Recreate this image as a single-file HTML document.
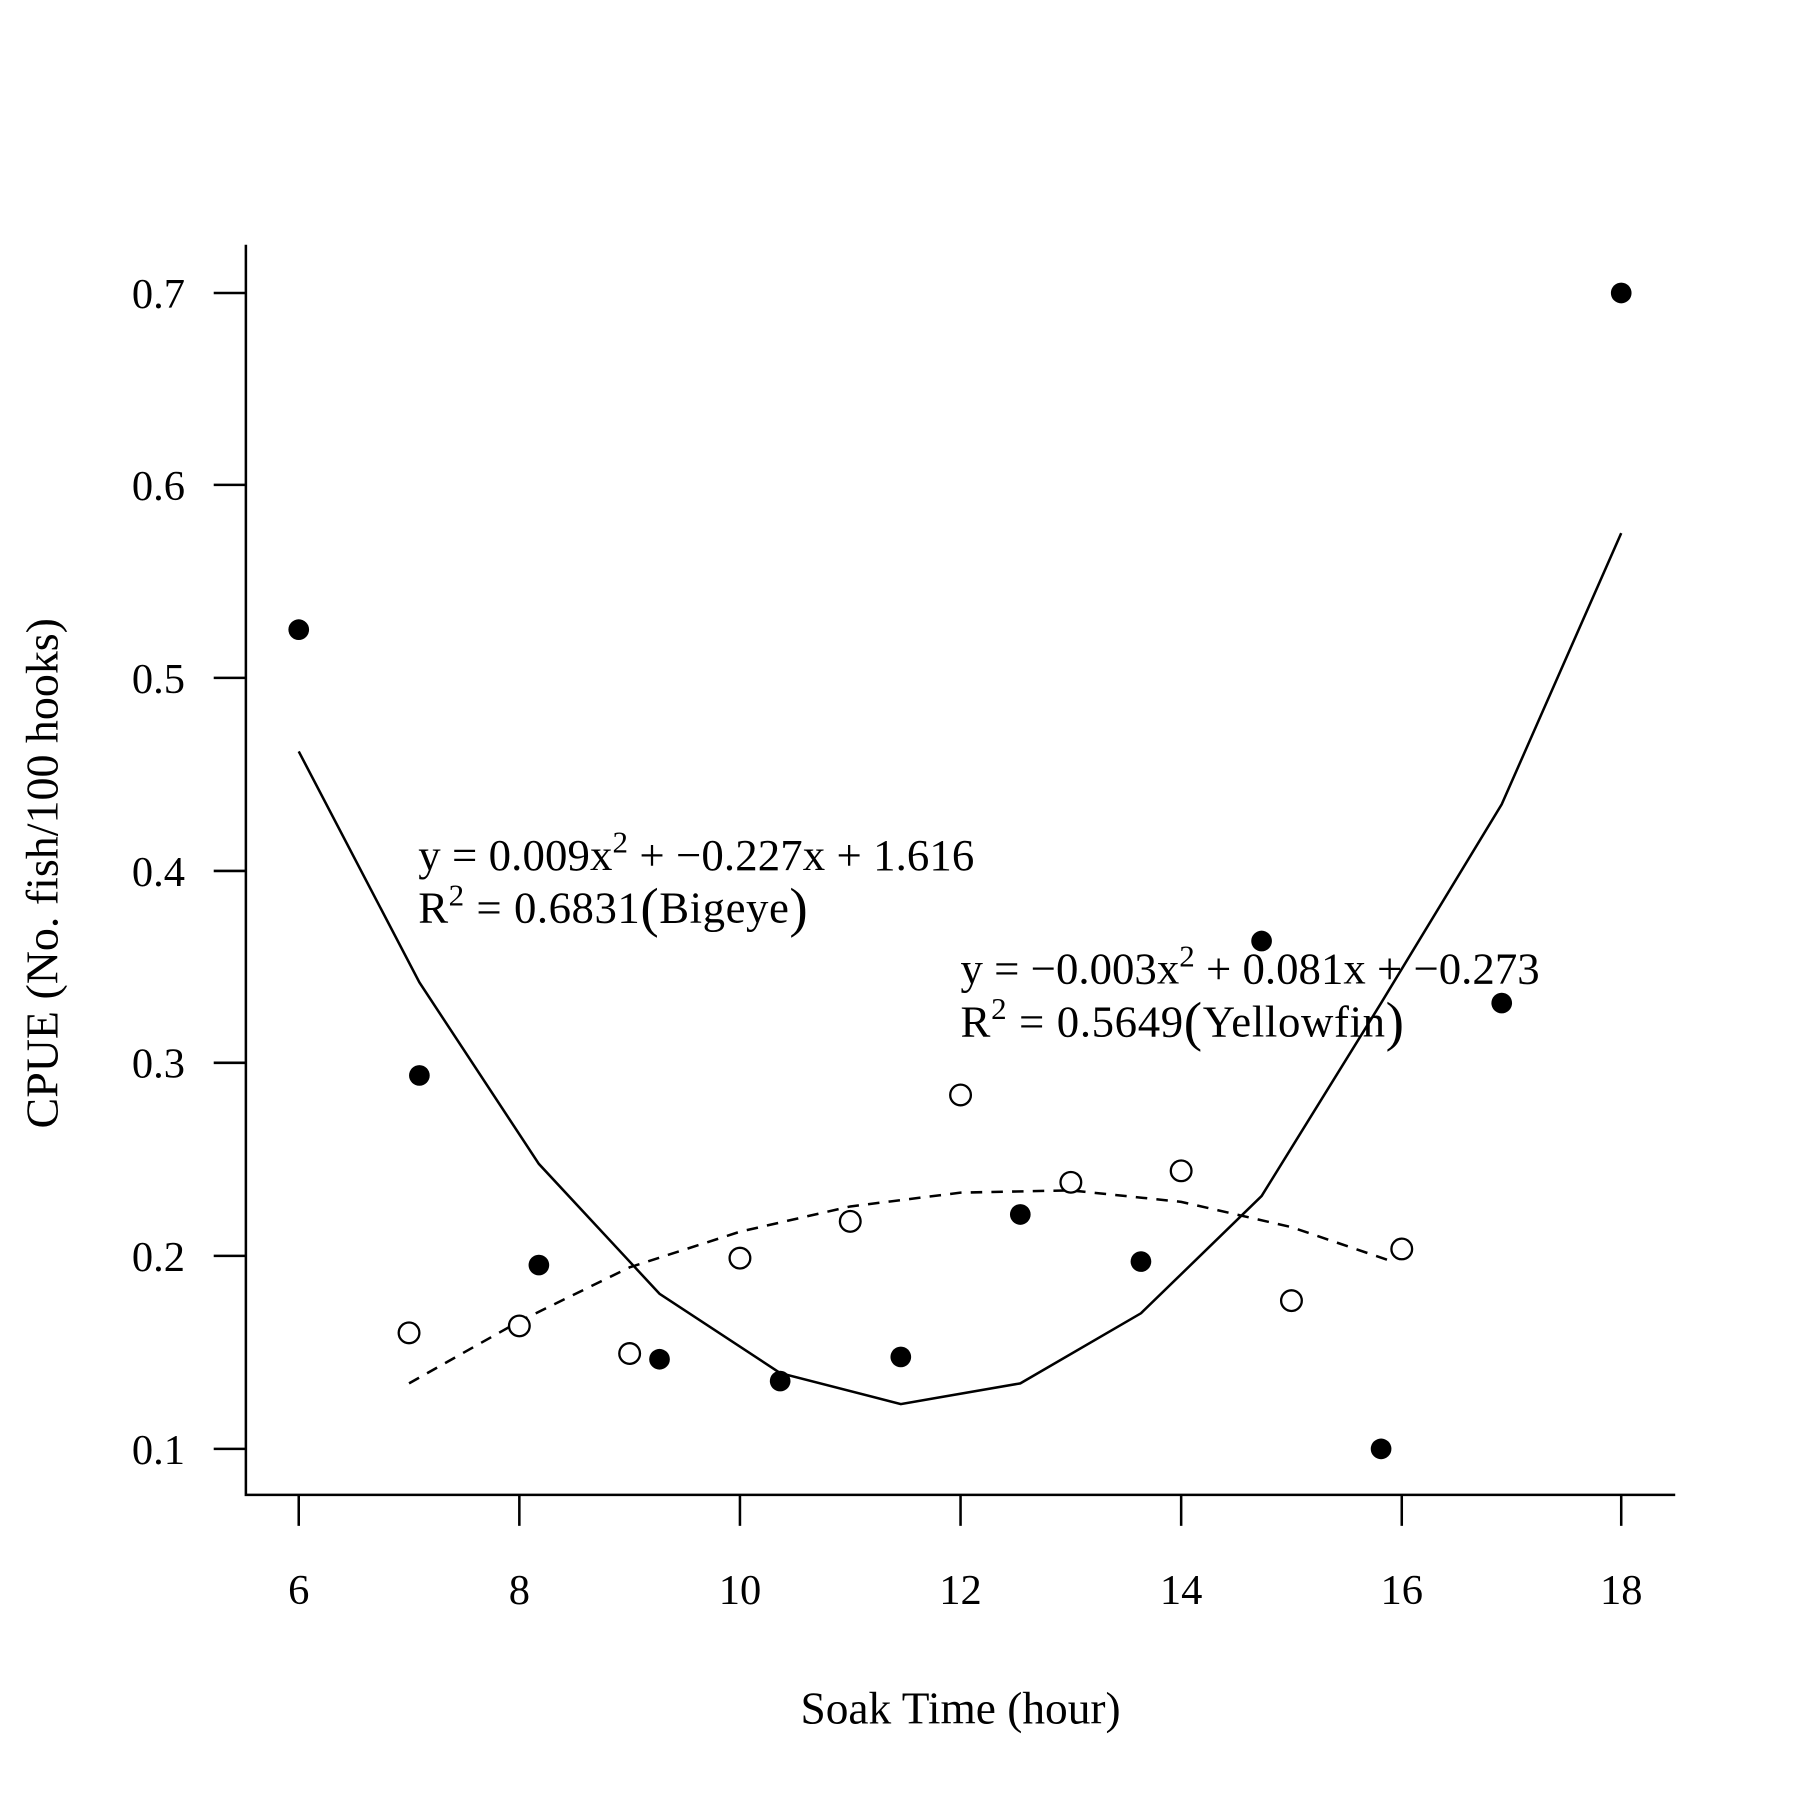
<!DOCTYPE html>
<html><head><style>html,body{margin:0;padding:0;background:#fff}svg{display:block}</style></head>
<body>
<svg width="1800" height="1800" viewBox="0 0 1566.6 1566.6" xmlns="http://www.w3.org/2000/svg" font-family="Liberation Serif, serif" fill="#000">
<g stroke="#000" stroke-width="2.2" fill="none">
<polyline points="214,213 214,1301 1458,1301"/>
<line x1="186" y1="255" x2="214" y2="255"/><line x1="186" y1="422" x2="214" y2="422"/>
<line x1="186" y1="590" x2="214" y2="590"/><line x1="186" y1="758" x2="214" y2="758"/>
<line x1="186" y1="925" x2="214" y2="925"/><line x1="186" y1="1093" x2="214" y2="1093"/>
<line x1="186" y1="1261" x2="214" y2="1261"/>
<line x1="260" y1="1301" x2="260" y2="1328"/><line x1="452" y1="1301" x2="452" y2="1328"/>
<line x1="644" y1="1301" x2="644" y2="1328"/><line x1="836" y1="1301" x2="836" y2="1328"/>
<line x1="1028" y1="1301" x2="1028" y2="1328"/><line x1="1220" y1="1301" x2="1220" y2="1328"/>
<line x1="1411" y1="1301" x2="1411" y2="1328"/>
<polyline points="260,654 365,855 469,1013 574,1126 679,1195 784,1222 888,1204 993,1143 1098,1041 1202,873 1307,700 1411,464"/>
<polyline stroke-dasharray="10,8" points="356,1204 452,1150 548,1103 644,1072 740,1050 836,1038 932,1036 1028,1046 1124,1068 1212,1098"/>
</g>
<g font-size="37" text-anchor="end">
<text x="161" y="268">0.7</text><text x="161" y="435">0.6</text><text x="161" y="603">0.5</text>
<text x="161" y="771">0.4</text><text x="161" y="938">0.3</text><text x="161" y="1106">0.2</text>
<text x="161" y="1274">0.1</text>
</g>
<g font-size="37" text-anchor="middle">
<text x="260" y="1396">6</text><text x="452" y="1396">8</text><text x="644" y="1396">10</text>
<text x="836" y="1396">12</text><text x="1028" y="1396">14</text><text x="1220" y="1396">16</text>
<text x="1411" y="1396">18</text>
<text x="836" y="1500" font-size="39.5">Soak Time (hour)</text>
<text transform="translate(50,760) rotate(-90)" font-size="40">CPUE (No. fish/100 hooks)</text>
</g>
<g>
<circle cx="260" cy="548" r="9"/><circle cx="365" cy="936" r="9"/><circle cx="469" cy="1101" r="9"/>
<circle cx="574" cy="1183" r="9"/><circle cx="679" cy="1202" r="9"/><circle cx="784" cy="1181" r="9"/>
<circle cx="888" cy="1057" r="9"/><circle cx="993" cy="1098" r="9"/><circle cx="1098" cy="819" r="9"/>
<circle cx="1202" cy="1261" r="9"/><circle cx="1307" cy="873" r="9"/><circle cx="1411" cy="255" r="9"/>
</g>
<g fill="#fff" stroke="#000" stroke-width="2">
<circle cx="356" cy="1160" r="9"/><circle cx="452" cy="1154" r="9"/><circle cx="548" cy="1178" r="9"/>
<circle cx="644" cy="1095" r="9"/><circle cx="740" cy="1063" r="9"/><circle cx="836" cy="953" r="9"/>
<circle cx="932" cy="1029" r="9"/><circle cx="1028" cy="1019" r="9"/><circle cx="1124" cy="1132" r="9"/>
<circle cx="1220" cy="1087" r="9"/>
</g>
<g font-size="39">
<text x="364" y="757" textLength="484" lengthAdjust="spacing">y = 0.009x<tspan font-size="27" dy="-15">2</tspan><tspan dy="15"> + −0.227x + 1.616</tspan></text>
<text x="364" y="803" textLength="339" lengthAdjust="spacing">R<tspan font-size="27" dy="-15">2</tspan><tspan dy="15"> = 0.6831</tspan><tspan font-size="48" dy="3">(</tspan><tspan dy="-3">Bigeye</tspan><tspan font-size="48" dy="3">)</tspan></text>
<text x="836" y="856" textLength="504" lengthAdjust="spacing">y = −0.003x<tspan font-size="27" dy="-15">2</tspan><tspan dy="15"> + 0.081x + −0.273</tspan></text>
<text x="836" y="902" textLength="386" lengthAdjust="spacing">R<tspan font-size="27" dy="-15">2</tspan><tspan dy="15"> = 0.5649</tspan><tspan font-size="48" dy="3">(</tspan><tspan dy="-3">Yellowfin</tspan><tspan font-size="48" dy="3">)</tspan></text>
</g>
</svg>
</body></html>
